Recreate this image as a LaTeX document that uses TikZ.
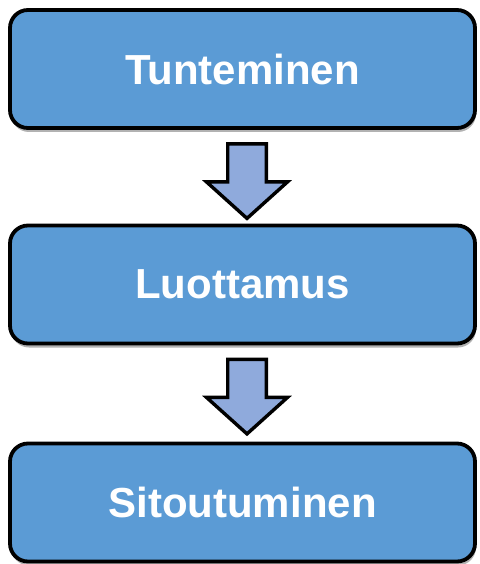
\documentclass[tikz,border=0pt]{standalone}
\usepackage{fontspec}
\setmainfont{Liberation Sans}
\usetikzlibrary{shadows,calc}
\definecolor{boxblue}{HTML}{5B9BD5}
\definecolor{arrblue}{HTML}{8FAADC}
\tikzset{
  stagebox/.style={draw=black, line width=3.8pt, fill=boxblue, rounded corners=18pt,
    minimum width=465pt, minimum height=118pt, inner sep=0pt,
    text=white, font=\fontsize{42pt}{48pt}\selectfont\bfseries,
    drop shadow={shadow xshift=1pt, shadow yshift=-4pt, opacity=0.3, fill=black}},
  blockarrow/.style={draw=black, line width=3.4pt, fill=arrblue, line join=miter}
}
\begin{document}
\begin{tikzpicture}[x=1pt,y=-1pt]
\useasboundingbox (0,0) rectangle (479,564);
\node[stagebox] (b1) at (242.5,69) {Tunteminen};
\node[stagebox] (b2) at (242.5,284.5) {Luottamus};
\node[stagebox] (b3) at (242.5,502.5) {Sitoutuminen};
\foreach \a in {b1, b2}{
  \coordinate (s) at ($(\a.south)+(4.5,0)$);
  \draw[blockarrow] ($(s)+(-19.3,14)$) -- ($(s)+(19.3,14)$) -- ($(s)+(19.3,52)$)
    -- ($(s)+(40.5,52)$) -- ($(s)+(0,88.5)$) -- ($(s)+(-40.5,52)$)
    -- ($(s)+(-19.3,52)$) -- cycle;
}
\end{tikzpicture}
\end{document}
